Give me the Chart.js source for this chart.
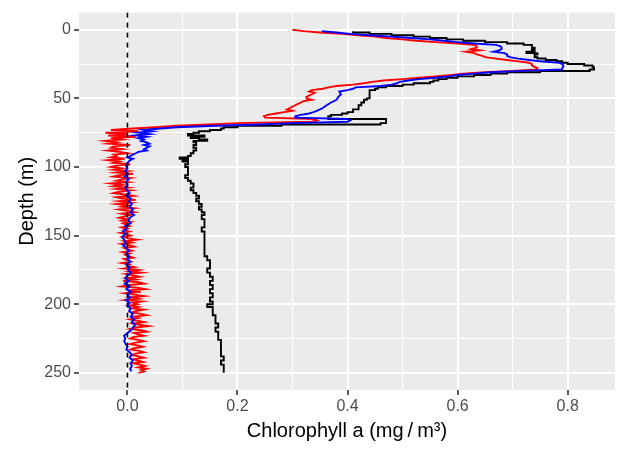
<!DOCTYPE html>
<html>
<head>
<meta charset="utf-8">
<script src="https://cdn.jsdelivr.net/npm/chart.js@4/dist/chart.umd.min.js"></script>
<style>
  html, body { margin: 0; padding: 0; background: #fff; }
  #wrap { width: 622px; height: 450px; }
</style>
</head>
<body>
<div id="wrap"><canvas id="c" width="622" height="450"></canvas></div>
<script>
// axis ranges / ticks
const X_MIN = -0.088, X_MAX = 0.886;
const Y_MIN = -12.5,  Y_MAX = 262.5;
const chlTicks   = [0, 0.2, 0.4, 0.6, 0.8];
const chlLabels  = ['0.0', '0.2', '0.4', '0.6', '0.8'];
const chlMinor   = [0.1, 0.3, 0.5, 0.7];
const depthTicks = [0, 50, 100, 150, 200, 250];
const depthLabels = ['0', '50', '100', '150', '200', '250'];
const depthMinor = [25, 75, 125, 175, 225];

// black profile
const blackDepth = [1,2,3,4,5,6,7,8,9,10,11,12,13,14,15,16,17,18,19,20,21,22,23,24,25,26,27,28,29,30,31,32,33,34,35,36,37,38,39,40,41,42,43,44,
  46,48,50,51,53,55,57,58,60,
  61,62,63,64,65,66,67,68,69,70,71,72,73,74,75,76,77,78,79,80,81,82,
  84,86,88,90,92,93,94,95,96,
  98,100,103,106,108,110,112,115,117,119,121,123,125,127,129,131,133,135,138,141,144,147,150,153,156,159,162,165,168,171,174,177,180,183,186,189,192,195,198,
  200,202,205,208,211,214,217,220,223,226,229,232,235,238,241,244,247,250];
const blackChl = [0.41,0.44,0.48,0.52,0.55,0.58,0.61,0.65,0.69,0.72,
  0.735,0.735,0.74,0.735,0.74,0.725,0.745,0.74,0.74,0.745,
  0.76,0.78,0.79,0.8,0.83,0.845,0.847,0.848,0.84,0.75,
  0.69,0.66,0.63,0.6,0.58,0.565,0.556,0.55,0.52,0.5,
  0.47,0.455,0.45,0.44,
  0.44,0.44,0.435,0.43,0.425,0.42,0.42,0.41,0.4,
  0.39,0.37,0.365,0.365,0.47,0.47,0.47,0.46,0.28,0.2,0.175,0.17,0.15,0.13,0.12,0.11,0.14,0.115,0.13,0.145,0.12,0.125,
  0.12,0.125,0.12,0.115,0.11,0.095,0.11,0.1,0.11,
  0.105,0.11,0.11,0.105,0.11,0.115,0.12,0.115,0.12,0.125,0.13,0.125,0.13,0.135,0.13,0.135,0.14,0.135,0.14,0.14,0.135,0.14,0.14,0.14,0.14,0.14,0.14,0.145,0.15,0.15,0.145,0.15,0.155,0.15,0.155,0.15,0.155,0.15,0.155,
  0.145,0.155,0.155,0.16,0.16,0.165,0.16,0.165,0.165,0.17,0.17,0.17,0.17,0.175,0.17,0.175,0.175,0.175];

// blue profile
const blueDepth = [1,2,3,4,5,6,7,8,9,10,11,12,13,14,15,16,17,18,19,20,21,22,23,24,25,26,27,28,29,30,31,32,33,34,35,36,37,38,39,40,41,42,43,44,45,
  47,49,51,53,55,57,59,
  60,61,62,63,64,65,66,67,68,69,70,71,72,73,74,75,76,77,78,79,80,81,82,83,84,85,86,87,88,89,90,91,92,93,94,95,
  97,99,101,103,105,107,109,111,113,115,117,119,121,123,125,127,129,131,133,135,137,139,141,143,145,147,149,151,153,155,
  157,159,161,163,165,167,169,171,173,175,177,179,181,183,185,187,189,191,193,195,197,199,201,203,205,207,209,211,213,215,
  217,219,221,223,225,227,229,231,233,235,237,239,241,243,245,247,249];
const blueChl = [0.353,0.38,0.405,0.44,0.48,0.515,0.55,0.575,0.6,0.63,
  0.67,0.678,0.68,0.68,0.675,0.665,0.685,0.69,0.69,0.695,
  0.71,0.73,0.75,0.785,0.79,0.792,0.792,0.79,0.79,0.72,
  0.66,0.63,0.6,0.585,0.56,0.53,0.51,0.495,0.49,0.48,
  0.46,0.415,0.41,0.4,0.385,
  0.388,0.383,0.38,0.37,0.362,0.355,0.345,
  0.338,0.33,0.315,0.305,0.305,0.4,0.405,0.4,0.3,0.24,
  0.16,0.09,0.06,0.03,0.045,0.02,0.04,0.015,0.035,0.02,
  0.03,0.025,0.035,0.04,0.03,0.04,0.035,0.03,0.035,0.02,
  0.015,0.01,0.005,0.0,0.01,0.005,
  0.0,-0.003,0.0,-0.004,0.0,-0.005,0.002,-0.003,0.0,-0.004,
  0.0,0.004,-0.002,0.006,0.003,0.008,0.004,0.01,0.005,0.012,
  0.004,0.002,0.006,-0.004,-0.002,-0.008,-0.004,-0.01,-0.006,-0.004,
  -0.008,-0.002,0.002,-0.002,0.003,0.0,0.005,-0.002,0.004,0.001,
  0.006,0.0,-0.004,0.002,-0.005,0.004,-0.002,0.006,0.0,0.005,
  -0.003,0.004,0.0,0.006,0.003,0.01,0.006,0.012,0.008,0.014,
  0.01,0.006,0.0,-0.006,-0.004,-0.006,-0.003,0.0,-0.002,0.004,
  0.008,0.004,0.01,0.006,0.008,0.005,0.007];

// red profile (1 m bins)
const redDepth = [0,1,2,3,4,5,6,7,8,9,10,11,12,13,14,15,16,17,18,19,20,21,22,23,24,25,26,27,28,29,30,31,32,33,34,35,36,37,38,39,
  40,41,42,43,44,45,46,47,48,49,50,51,52,53,54,55,56,57,58,59,60,61,62,63,64,65,66,67,68,69,70,71,72,73,74,75,76,77,78,79,
  80,81,82,83,84,85,86,87,88,89,90,91,92,93,94,95,96,97,98,99,100,101,102,103,104,105,106,107,108,109,110,111,112,113,114,115,116,117,118,119,
  120,121,122,123,124,125,126,127,128,129,130,131,132,133,134,135,136,137,138,139,140,141,142,143,144,145,146,147,148,149,150,151,152,153,154,155,156,157,158,159,
  160,161,162,163,164,165,166,167,168,169,170,171,172,173,174,175,176,177,178,179,180,181,182,183,184,185,186,187,188,189,190,191,192,193,194,195,196,197,198,199,
  200,201,202,203,204,205,206,207,208,209,210,211,212,213,214,215,216,217,218,219,220,221,222,223,224,225,226,227,228,229,230,231,232,233,234,235,236,237,238,239,
  240,241,242,243,244,245,246,247,248,249,250];
const redChl = [0.30,0.32,0.35,0.39,0.42,0.45,0.47,0.5,0.525,0.56,
  0.6,0.63,0.635,0.635,0.625,0.64,0.615,0.63,0.635,0.645,
  0.65,0.67,0.69,0.71,0.73,0.735,0.735,0.74,0.745,0.745,
  0.7,0.65,0.61,0.59,0.56,0.53,0.5,0.465,0.445,0.43,
  0.41,0.38,0.365,0.355,0.335,0.33,0.34,0.335,0.33,0.325,
  0.326,0.335,0.32,0.315,0.31,0.305,0.3,0.295,0.29,0.3,
  0.285,0.27,0.255,0.248,0.25,0.34,0.345,0.335,0.2,0.15,
  0.09,0.05,
  0.01,-0.03,0.02,-0.04,0.0,-0.035,0.015,-0.03,-0.01,-0.04,
  -0.02,-0.035,0.005,-0.025,-0.03,-0.01,-0.035,-0.015,0.0,-0.025,
  -0.02,-0.03,-0.005,-0.035,-0.015,-0.025,0.005,-0.02,-0.03,-0.01,
  -0.025,0.0,-0.02,0.01,-0.015,-0.025,0.005,-0.01,-0.02,0.0,
  -0.03,-0.01,-0.025,0.0,-0.02,0.005,-0.015,-0.025,-0.005,0.01,
  -0.02,-0.01,0.015,-0.015,0.005,-0.02,0.0,-0.01,0.01,-0.015,
  0.0,0.012,-0.01,0.005,-0.005,-0.015,0.0,-0.01,0.005,-0.008,
  -0.002,0.004,-0.01,0.0,-0.006,0.003,-0.012,0.0,0.006,-0.008,
  0.002,0.018,-0.004,0.008,-0.01,0.004,0.012,-0.006,0.0,0.008,
  -0.008,0.004,-0.004,0.002,0.01,-0.006,0.0,0.006,-0.01,0.004,
  0.0,0.012,-0.006,0.02,0.004,0.025,-0.002,0.01,0.022,0.0,
  0.015,-0.008,0.02,0.03,0.004,-0.01,0.018,0.032,0.0,0.024,
  -0.004,0.012,0.03,0.006,0.02,-0.002,0.026,0.01,0.018,0.004,
  0.02,0.01,0.03,0.015,0.008,0.025,0.035,0.012,0.02,0.005,
  0.018,0.03,0.01,0.022,0.038,0.015,0.005,0.025,0.035,0.012,
  0.02,0.03,0.01,0.005,0.02,0.03,0.015,0.005,0.018,0.028,
  0.012,0.006,0.022,0.03,0.015,0.008,0.02,0.03,0.012,0.018,
  0.028,0.01,0.022,0.032,0.02,0.035,0.025,0.03,0.02];

const FONT = "'Liberation Sans', Arial, Helvetica, sans-serif";
const hasTick = (arr, v) => arr.some(t => Math.abs(t - v) < 1e-9);
const toPts = (ds, vs) => ds.map((d, i) => ({ x: vs[i], y: d }));

[['black', blackDepth, blackChl], ['blue', blueDepth, blueChl], ['red', redDepth, redChl]].forEach(([n, d, v]) => {
  if (d.length !== v.length) console.warn(n, d.length, v.length);
});

const panelBg = {
  id: 'panelBg',
  beforeDraw(chart) {
    const { ctx, chartArea: a } = chart;
    ctx.save();
    ctx.fillStyle = '#EBEBEB';
    ctx.fillRect(a.left, a.top, a.right - a.left, a.bottom - a.top);
    ctx.restore();
  }
};

const lineDs = (data, color, order, stepped) => ({
  data, borderColor: color, borderWidth: 1.9, pointRadius: 0, showLine: true,
  stepped, tension: 0, fill: false, order,
});

const gridOpts = majors => ({
  color: '#FFFFFF',
  lineWidth: c => hasTick(majors, c.tick.value) ? 2 : 1,
  tickColor: c => hasTick(majors, c.tick.value) ? '#333333' : 'rgba(0,0,0,0)',
  tickWidth: 1.6, tickLength: 5,
});

new Chart(document.getElementById('c'), {
  type: 'scatter',
  data: {
    datasets: [
      // black cast is coarser, drawn as steps
      lineDs(toPts(blackDepth, blackChl), '#000000', 4, 'after'),
      lineDs(toPts(redDepth, redChl), '#FF0000', 3, false),
      lineDs(toPts(blueDepth, blueChl), '#0000FF', 2, false),
      { data: [{ x: 0, y: Y_MIN }, { x: 0, y: Y_MAX }], borderColor: '#000000', borderWidth: 1.6,
        borderDash: [5, 5], pointRadius: 0, showLine: true, order: 1 },
    ],
  },
  options: {
    responsive: false, animation: false, devicePixelRatio: 1,
    layout: { padding: { top: 6, right: 7, left: 0, bottom: 0 } },
    plugins: { legend: { display: false }, tooltip: { enabled: false } },
    scales: {
      x: {
        type: 'linear', min: X_MIN, max: X_MAX,
        afterBuildTicks: s => { s.ticks = [...chlTicks, ...chlMinor].sort((a, b) => a - b).map(v => ({ value: v })); },
        afterFit: s => { s.height = 60; },
        border: { display: false },
        grid: gridOpts(chlTicks),
        ticks: {
          autoSkip: false, maxRotation: 0, padding: 2, color: '#4D4D4D',
          font: { family: FONT, size: 16 },
          callback: v => { const i = chlTicks.findIndex(t => Math.abs(t - v) < 1e-9); return i < 0 ? '' : chlLabels[i]; },
        },
        title: { display: true, text: 'Chlorophyll a (mg\u2009/\u2009m³)', color: '#000000',
          font: { family: FONT, size: 20 }, padding: { top: 0, bottom: 7 } },
      },
      y: {
        type: 'linear', reverse: true, min: Y_MIN, max: Y_MAX,
        afterBuildTicks: s => { s.ticks = [...depthTicks, ...depthMinor].sort((a, b) => a - b).map(v => ({ value: v })); },
        afterFit: s => { s.width = 79; },
        border: { display: false },
        grid: gridOpts(depthTicks),
        ticks: {
          autoSkip: false, padding: 3, color: '#4D4D4D',
          font: { family: FONT, size: 16 },
          callback: v => { const i = depthTicks.indexOf(v); return i < 0 ? '' : depthLabels[i]; },
        },
        title: { display: true, text: 'Depth (m)', color: '#000000',
          font: { family: FONT, size: 20 }, padding: { top: 15, bottom: 0 } },
      },
    },
  },
  plugins: [panelBg],
});
</script>
</body>
</html>
